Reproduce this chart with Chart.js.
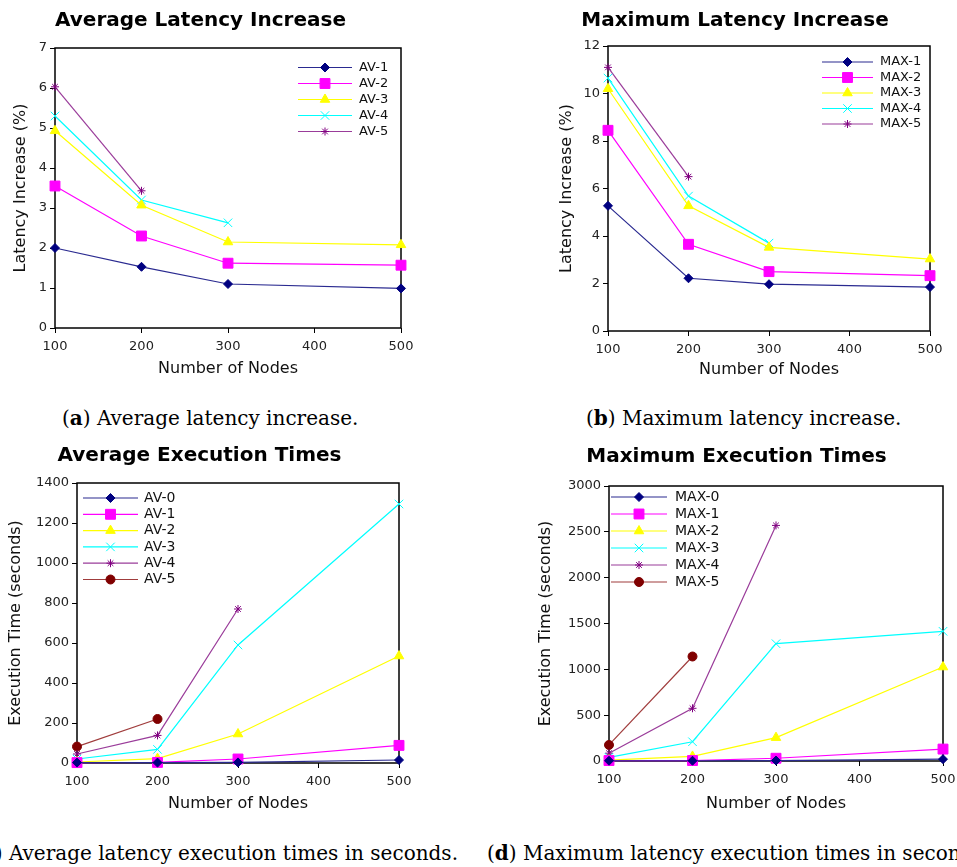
<!DOCTYPE html>
<html>
<head>
<meta charset="utf-8">
<script src="https://cdn.jsdelivr.net/npm/chart.js@4.4.0/dist/chart.umd.min.js"></script>
<style>
  html, body { margin: 0; padding: 0; background: #fff; overflow: hidden; }
  body { width: 957px; height: 867px; position: relative; }
  .plot { position: absolute; }
  .cap { position: absolute; font-family: "DejaVu Serif", serif; font-size: 20px; color: #000; white-space: nowrap; line-height: 24px; }
</style>
</head>
<body>
<div class="plot" style="left:0;top:0;width:424px;height:382px"><canvas id="avgLat"></canvas></div>
<div class="plot" style="left:540px;top:0;width:420px;height:383px"><canvas id="maxLat"></canvas></div>
<div class="plot" style="left:0;top:440px;width:418px;height:377px"><canvas id="avgExec"></canvas></div>
<div class="plot" style="left:530px;top:440px;width:434px;height:377px"><canvas id="maxExec"></canvas></div>

<div class="cap" style="left:62px;top:406px">(<b>a</b>) Average latency increase.</div>
<div class="cap" style="left:586px;top:406px">(<b>b</b>) Maximum latency increase.</div>
<div class="cap" style="right:499px;top:841px">(<b>c</b>) Average latency execution times in seconds.</div>
<div class="cap" style="left:487px;top:841px">(<b>d</b>) Maximum latency execution times in seconds.</div>

<script>
// --- data ---
const nodes = [100, 200, 300, 500];

const avLat1 = [2.0, 1.53, 1.1, 0.99];
const avLat2 = [3.55, 2.3, 1.62, 1.57];
const avLat3 = [4.93, 3.07, 2.15, 2.08];
const avLat4 = [5.3, 3.2, 2.63];
const avLat5 = [6.03, 3.43];

const maxLat1 = [5.27, 2.22, 1.97, 1.85];
const maxLat2 = [8.45, 3.65, 2.5, 2.33];
const maxLat3 = [10.2, 5.27, 3.52, 3.03];
const maxLat4 = [10.65, 5.68, 3.7];
const maxLat5 = [11.1, 6.5];

const avExec0 = [2, 2, 3, 15];
const avExec1 = [2, 3, 20, 88];
const avExec2 = [5, 22, 145, 535];
const avExec3 = [20, 68, 590, 1295];
const avExec4 = [45, 138, 770];
const avExec5 = [82, 220];

const maxExec0 = [3, 3, 5, 20];
const maxExec1 = [5, 5, 30, 130];
const maxExec2 = [10, 50, 255, 1025];
const maxExec3 = [40, 210, 1280, 1415];
const maxExec4 = [85, 575, 2570];
const maxExec5 = [175, 1140];

const latLabelsAv = ['AV-1', 'AV-2', 'AV-3', 'AV-4', 'AV-5'];
const latLabelsMax = ['MAX-1', 'MAX-2', 'MAX-3', 'MAX-4', 'MAX-5'];
const execLabelsAv = ['AV-0', 'AV-1', 'AV-2', 'AV-3', 'AV-4', 'AV-5'];
const execLabelsMax = ['MAX-0', 'MAX-1', 'MAX-2', 'MAX-3', 'MAX-4', 'MAX-5'];

// gnuplot-like line/marker styles, in series order
const styles = [
  { color: '#000080', line: '#2a2a90', point: 'rectRot', r: 4.5 },
  { color: '#ff00ff', line: '#ff00ff', point: 'rect', r: 7 },
  { color: '#ffff00', line: '#ffff00', point: 'triangle', r: 5.5 },
  { color: '#00ffff', line: '#00ffff', point: 'crossRot', r: 6 },
  { color: '#800080', line: '#9a3c9a', point: 'star', r: 4 },
  { color: '#800000', line: '#a03c3c', point: 'circle', r: 4.5 }
];

Chart.defaults.font.family = '"DejaVu Sans", sans-serif';
Chart.defaults.color = '#222';

function makeSeries(labels, arrays) {
  return arrays.map((vals, i) => {
    const s = styles[i];
    return {
      label: labels[i],
      data: vals.map((v, k) => ({ x: nodes[k], y: v })),
      borderColor: s.line,
      borderWidth: 1.2,
      pointStyle: s.point,
      pointRadius: s.r,
      pointHoverRadius: s.r,
      pointBackgroundColor: s.color,
      pointBorderColor: s.color,
      pointBorderWidth: 1,
      tension: 0,
      clip: false
    };
  });
}

// box round the plot area
const frame = {
  id: 'frame',
  beforeDatasetsDraw(chart) {
    const a = chart.chartArea, ctx = chart.ctx;
    ctx.save();
    ctx.strokeStyle = '#000';
    ctx.lineWidth = 1.5;
    ctx.strokeRect(a.left, a.top, a.right - a.left, a.bottom - a.top);
    ctx.restore();
  }
};

// legend drawn inside the plot, gnuplot style
const boxLegend = {
  id: 'boxLegend',
  afterDraw(chart, args, o) {
    const ctx = chart.ctx;
    ctx.save();
    chart.data.datasets.forEach((ds, i) => {
      const y = o.y + i * o.gap;
      ctx.strokeStyle = ds.borderColor;
      ctx.lineWidth = ds.borderWidth;
      ctx.beginPath();
      ctx.moveTo(o.x0, y);
      ctx.lineTo(o.x1, y);
      ctx.stroke();
      ctx.fillStyle = ds.pointBackgroundColor;
      ctx.strokeStyle = ds.pointBorderColor;
      ctx.lineWidth = ds.pointBorderWidth;
      Chart.helpers.drawPoint(ctx, {
        pointStyle: ds.pointStyle, radius: ds.pointRadius, rotation: 0, borderWidth: ds.pointBorderWidth
      }, (o.x0 + o.x1) / 2, y);
      ctx.fillStyle = '#111';
      ctx.font = o.fontSize + 'px "DejaVu Sans"';
      ctx.textBaseline = 'middle';
      ctx.textAlign = 'left';
      ctx.fillText(ds.label, o.tx, y);
    });
    ctx.restore();
  }
};

const plainNum = v => String(v);

function drawPlot(id, cfg) {
  new Chart(document.getElementById(id), {
    type: 'line',
    data: { datasets: cfg.datasets },
    plugins: [frame, boxLegend],
    options: {
      responsive: true,
      maintainAspectRatio: false,
      animation: false,
      layout: { padding: { left: 0, right: cfg.padRight, top: 0, bottom: 0 } },
      plugins: {
        legend: { display: false },
        tooltip: { enabled: false },
        title: {
          display: true,
          text: cfg.title,
          color: '#000',
          font: { size: 20, weight: 'bold' },
          padding: { top: cfg.titleTop, bottom: cfg.titleBottom }
        },
        boxLegend: cfg.legend
      },
      scales: {
        x: {
          type: 'linear',
          min: 100,
          max: 500,
          afterFit: s => { s.height = cfg.xHeight; },
          ticks: { stepSize: 100, font: { size: 13 }, padding: 6, autoSkip: false, callback: plainNum },
          grid: { display: true, drawOnChartArea: false, drawTicks: true, tickLength: 5, color: '#000' },
          border: { display: false },
          title: { display: true, text: 'Number of Nodes', color: '#111', font: { size: 16 }, padding: { top: 4, bottom: 4 } }
        },
        y: {
          min: 0,
          max: cfg.yMax,
          afterFit: s => { s.width = cfg.yWidth; },
          ticks: { stepSize: cfg.yStep, font: { size: 13 }, padding: 3, callback: plainNum },
          grid: { display: true, drawOnChartArea: false, drawTicks: true, tickLength: 5, color: '#000' },
          border: { display: false },
          title: { display: true, text: cfg.yTitle, color: '#111', font: { size: 16 }, padding: { top: cfg.yTitlePad, bottom: 4 } }
        }
      }
    }
  });
}

drawPlot('avgLat', {
  title: 'Average Latency Increase',
  yTitle: 'Latency Increase (%)',
  datasets: makeSeries(latLabelsAv, [avLat1, avLat2, avLat3, avLat4, avLat5]),
  yMax: 7, yStep: 1,
  padRight: 23, yWidth: 55, xHeight: 54, yTitlePad: 11.4,
  titleTop: 9, titleBottom: 15,
  legend: { x0: 298, x1: 352, tx: 359, y: 67.5, gap: 16, fontSize: 13 }
});

drawPlot('maxLat', {
  title: 'Maximum Latency Increase',
  yTitle: 'Latency Increase (%)',
  datasets: makeSeries(latLabelsMax, [maxLat1, maxLat2, maxLat3, maxLat4, maxLat5]),
  yMax: 12, yStep: 2,
  padRight: 30, yWidth: 68, xHeight: 52, yTitlePad: 17.4,
  titleTop: 9, titleBottom: 13,
  legend: { x0: 282, x1: 333, tx: 340, y: 62, gap: 15.5, fontSize: 13 }
});

drawPlot('avgExec', {
  title: 'Average Execution Times',
  yTitle: 'Execution Time (seconds)',
  datasets: makeSeries(execLabelsAv, [avExec0, avExec1, avExec2, avExec3, avExec4, avExec5]),
  yMax: 1400, yStep: 200,
  padRight: 19, yWidth: 77, xHeight: 54, yTitlePad: 6.4,
  titleTop: 4, titleBottom: 15,
  legend: { x0: 83, x1: 138, tx: 144, y: 58, gap: 16.3, fontSize: 14 }
});

drawPlot('maxExec', {
  title: 'Maximum Execution Times',
  yTitle: 'Execution Time (seconds)',
  datasets: makeSeries(execLabelsMax, [maxExec0, maxExec1, maxExec2, maxExec3, maxExec4, maxExec5]),
  yMax: 3000, yStep: 500,
  padRight: 21, yWidth: 79, xHeight: 56, yTitlePad: 6.4,
  titleTop: 5, titleBottom: 17,
  legend: { x0: 81, x1: 137, tx: 145, y: 57, gap: 17, fontSize: 14 }
});
</script>
</body>
</html>
